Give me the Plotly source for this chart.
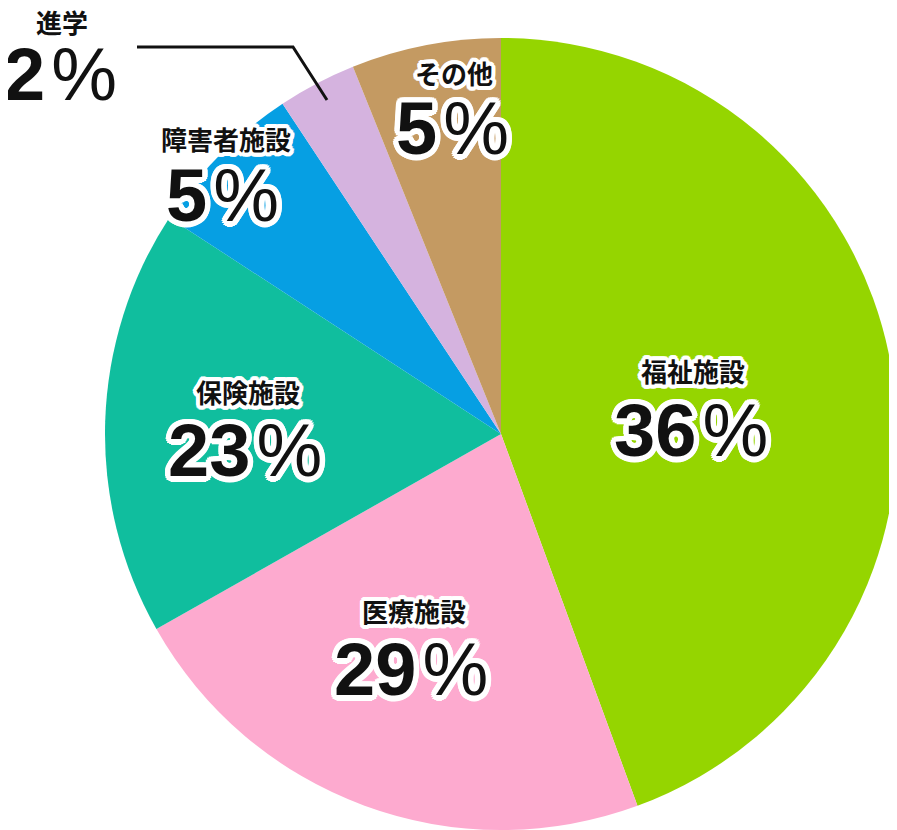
import math
import plotly.graph_objects as go

# ---- data ----
categories = ["福祉施設", "医療施設", "保険施設", "障害者施設", "進学", "その他"]
slice_values = [44.4, 22.4, 17.4, 6.5, 3.2, 6.1]          # slice sizes as drawn
percent_numbers = ["36", "29", "23", "5", "2", "5"]         # printed percentages
colors = ["#95D500", "#FDAACF", "#10BE9E", "#069FE3", "#D5B3DF", "#C49A62"]

# page offset (browser body margin) and figure size
OFF = 8
SW, SH = 897, 830
FW, FH = SW - OFF, SH - OFF

# label placement (screen pixel centers of category text and percent text)
label_pos = [(693, 370), (414, 610), (248, 391), (226, 139), (62, 21), (454, 73)]
pct_pos = [(691, 430), (411, 669), (245, 450), (222, 196), (60, 75), (452, 128)]
outlined = [True, True, True, True, False, True]

def px(x):
    return (x - OFF) / FW

def py(y):
    return 1 - (y - OFF) / FH

def outline(w, n=16):
    parts = []
    for k in range(n):
        a = 2 * math.pi * k / n
        parts.append(f"{w*math.cos(a):.1f}px {w*math.sin(a):.1f}px 0 white")
    return ", ".join(parts)

# pie geometry in screen pixels
CX, CY, R = 501, 434, 396

fig = go.Figure(go.Pie(
    labels=categories,
    values=slice_values,
    marker=dict(colors=colors, line=dict(width=0)),
    sort=False,
    direction="clockwise",
    rotation=0,
    textinfo="none",
    hoverinfo="label+percent",
    domain=dict(x=[px(CX - R), min(1.0, px(CX + R))],
                y=[max(0.0, py(CY + R)), py(CY - R)]),
    showlegend=False,
))

LABEL_FONT = "Noto Sans CJK JP"
PCT_FONT = "Liberation Sans, Arial, Noto Sans CJK JP"
PCT_SIGN = ("\u200a<span style=\"font-family:'Liberation Sans Narrow', 'Liberation Sans';"
            "font-weight:normal\">%</span>")
annotations = []
for i, cat in enumerate(categories):
    lx, ly = label_pos[i]
    qx, qy = pct_pos[i]
    sh_l = outline(4) if outlined[i] else "none"
    sh_p = outline(5.5) if outlined[i] else "none"
    annotations.append(dict(
        x=px(lx), y=py(ly), xref="paper", yref="paper",
        text=cat, showarrow=False, xanchor="center", yanchor="middle",
        font=dict(family=LABEL_FONT, size=26, color="#111111", weight="bold", shadow=sh_l),
    ))
    annotations.append(dict(
        x=px(qx), y=py(qy), xref="paper", yref="paper",
        text=percent_numbers[i] + PCT_SIGN,
        showarrow=False, xanchor="center", yanchor="middle",
        font=dict(family=PCT_FONT, size=74, color="#111111", weight="bold", shadow=sh_p),
    ))

# leader line for the small slice
leader = [(137, 47), (293, 47), (327, 100)]
shapes = [dict(
    type="path", xref="paper", yref="paper",
    path="M " + " L ".join(f"{px(x)},{py(y)}" for x, y in leader),
    line=dict(color="#111111", width=3),
)]

fig.update_layout(
    width=FW, height=FH,
    margin=dict(l=0, r=0, t=0, b=0),
    paper_bgcolor="white",
    plot_bgcolor="white",
    annotations=annotations,
    shapes=shapes,
)

fig.write_html("out.html")
